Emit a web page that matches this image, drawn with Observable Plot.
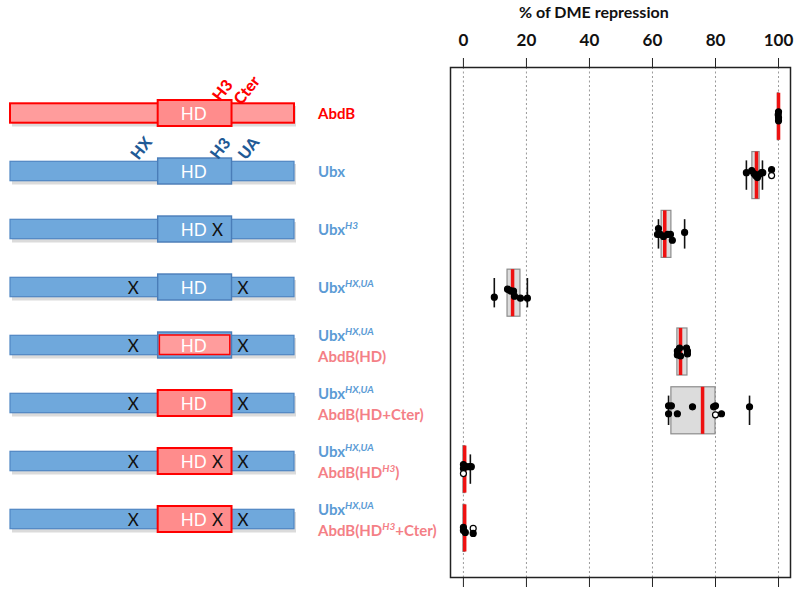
<!DOCTYPE html>
<html><head><meta charset="utf-8">
<script src="https://cdn.jsdelivr.net/npm/d3@7"></script>
<script src="https://cdn.jsdelivr.net/npm/@observablehq/plot@0.6"></script>
<style>
body{margin:0;background:#fff;}
#fig{position:relative;width:798px;height:593px;font-family:Lato,"Open Sans",sans-serif;overflow:hidden;}
#fig svg{position:absolute;top:0;}
.lab{position:absolute;font-weight:700;font-size:15px;line-height:21px;white-space:nowrap;}
.lab sup{font-style:italic;font-size:10px;vertical-align:baseline;position:relative;top:-0.6em;line-height:0;}
.title{position:absolute;left:519px;top:3px;font-weight:700;font-size:16px;line-height:18px;color:#111;white-space:nowrap;}
</style></head><body><div id="fig"></div>
<script>
// ---------- constructs ----------
const constructs = ["AbdB","Ubx","Ubx H3","Ubx HX,UA","Ubx HX,UA AbdB(HD)","Ubx HX,UA AbdB(HD+Cter)","Ubx HX,UA AbdB(HDH3)","Ubx HX,UA AbdB(HDH3+Cter)"];

// label lines: [text, superscript, text after]
const labelLine1 = [["AbdB","",""],["Ubx","",""],["Ubx","H3",""],["Ubx","HX,UA",""],["Ubx","HX,UA",""],["Ubx","HX,UA",""],["Ubx","HX,UA",""],["Ubx","HX,UA",""]];
const labelLine2 = [null,null,null,null,["AbdB(HD)","",""],["AbdB(HD+Cter)","",""],["AbdB(HD","H3",")"],["AbdB(HD","H3","+Cter)"]];
const labelLine1Kind = ["abdb","ubx","ubx","ubx","ubx","ubx","ubx","ubx"];

// ---------- protein diagrams (positions in % of protein length) ----------
const backboneProtein = ["AbdB","Ubx","Ubx","Ubx","Ubx","Ubx","Ubx","Ubx"];
const hdProtein       = ["AbdB","Ubx","Ubx","Ubx","Swap","AbdB","AbdB","AbdB"];
const motifHX  = [null,"Ubx","Ubx","mut","mut","mut","mut","mut"];
const motifH3  = ["AbdB","Ubx","mutUbx","Ubx","AbdB","AbdB","mutAbdB","mutAbdB"];
const motifUA  = [null,"Ubx","Ubx","mut","mut","mut","mut","mut"];
const hasCter  = [true,false,false,false,false,true,false,true];
const backboneSpan = [0, 100];
const hdSpan = [52, 78];
const motifSpan = {HX:[41.4,42.6], H3:[71.3,72.7], UA:[80,81.2], Cter:[78.5,79.7]};
const mutMarkPos = {HX:43.2, H3:72.9, UA:81.9};
const motifLabels = [
  {row:0, text:"H3", at:74.8, kind:"abdb"},
  {row:0, text:"Cter", at:83.3, kind:"abdb"},
  {row:1, text:"HX", at:46.2, kind:"ubx"},
  {row:1, text:"H3", at:74.0, kind:"ubx"},
  {row:1, text:"UA", at:84.0, kind:"ubx"}
];

// ---------- % of DME repression ----------
const xTicks = [0,20,40,60,80,100];
const boxQ1     = [99.8, 91.7, 62.9, 14.0, 67.9, 66.0, 0.0, 0.0];
const boxMedian = [100,  93.0, 63.9, 15.6, 68.9, 75.9, 0.4, 0.4];
const boxQ3     = [100.1,94.0, 66.0, 18.1, 71.1, 80.0, 0.6, 0.6];
const whiskerLo = [null, 89.8, 61.9, 9.8, null, 65.1, null, null];
const whiskerHi = [null, 94.9, 70.2, 20.3, null, 90.8, 2.2, null];
// points: [value, vertical jitter (row units), open circle]
const ptsAbdB = [[100,-0.085,0],[99.9,-0.034,0],[100,0.017,0],[100,0.068,0]];
const ptsUbx = [[89.8,-0.05,0],[91.5,-0.085,0],[92.2,-0.034,0],[92.7,0,0],[93.3,0.034,0],[93.8,-0.017,0],[94.6,-0.05,0],[95.0,-0.05,0],[97.8,-0.1,0],[97.8,0,1]];
const ptsUbxH3 = [[61.9,-0.1,0],[61.6,0,0],[62.5,0,0],[63.5,0.034,0],[64.8,0,0],[65.7,0,0],[66.3,0.1,0],[70.2,-0.034,0]];
const ptsUbxHXUA = [[9.8,0.068,0],[14.0,-0.068,0],[14.6,-0.05,0],[15.2,-0.034,0],[15.9,-0.034,0],[16.2,0.05,0],[18.1,0.085,0],[20.3,0.085,0]];
const ptsHD = [[67.9,-0.017,0],[67.9,0.05,0],[68.6,-0.068,0],[68.9,0.068,0],[70.8,-0.068,0],[71.1,-0.017,0],[71.1,0.034,0]];
const ptsHDCter = [[65.1,-0.085,0],[66.0,-0.085,0],[65.1,0.05,0],[67.9,0.05,0],[72.7,-0.068,0],[79.4,-0.068,0],[80.0,-0.085,0],[80.0,0.068,1],[81.9,0.05,0],[90.8,-0.068,0]];
const ptsHDH3 = [[0.0,-0.085,0],[0.0,-0.017,0],[0.0,0.068,1],[0.9,-0.05,0],[1.9,-0.05,0],[2.5,-0.05,0]];
const ptsHDH3Cter = [[0.0,-0.017,0],[0.0,0.034,0],[0.6,0.068,0],[3.1,0,1],[3.1,0.085,0]];
const pointSets = [ptsAbdB, ptsUbx, ptsUbxH3, ptsUbxHXUA, ptsHD, ptsHDCter, ptsHDH3, ptsHDH3Cter];

// ---------- styles ----------
const C = {
  ubxFill:"#6FA8DC", ubxStroke:"#4F86C3", ubxHDStroke:"#4A7DB8", ubxMotif:"#4D84C2",
  abdbFill:"#FF9C9C", abdbStroke:"#FF0000", abdbHDFill:"#FF8C8C", abdbMotif:"#FF0000",
  ubxLabel:"#5B9BD5", abdbLabel:"#FF0000", swapLabel:"#F47F86", motifUbxLabel:"#1F5A96"
};

// ---------- build tables ----------
const backbone = constructs.map((row,i)=>({row, x1:backboneSpan[0], x2:backboneSpan[1], p:backboneProtein[i]}));
const hdBoxes = constructs.map((row,i)=>({row, x1:hdSpan[0], x2:hdSpan[1], p:hdProtein[i]}));
const motifs = [];
const muts = [];
constructs.forEach((row,i)=>{
  const add = (name, v) => {
    if (!v) return;
    const isAbdB = v === "AbdB" || v === "mutAbdB";
    motifs.push({row, x1:motifSpan[name][0], x2:motifSpan[name][1], abdb:isAbdB});
    if (v.startsWith("mut")) muts.push({row, x:mutMarkPos[name]});
  };
  add("HX", motifHX[i]); add("H3", motifH3[i]); add("UA", motifUA[i]);
  if (hasCter[i]) motifs.push({row, x1:motifSpan.Cter[0], x2:motifSpan.Cter[1], abdb:true});
});
const motifTxt = motifLabels.map(d=>({...d, row:constructs[d.row]}));

const boxes = constructs.map((r,i)=>({row:i, q1:boxQ1[i], q3:boxQ3[i], med:boxMedian[i]}));
const staples = [];
constructs.forEach((r,i)=>{
  if (whiskerLo[i]!=null) staples.push({row:i, v:whiskerLo[i]});
  if (whiskerHi[i]!=null) staples.push({row:i, v:whiskerHi[i]});
});
const points = pointSets.flatMap((set,i)=>set.map(([v,j,o])=>({row:i, v, j, open:!!o})));

// ---------- left: diagrams ----------
const left = Plot.plot({
  width: 450, height: 593,
  marginLeft: 10, marginRight: 156, marginTop: 83, marginBottom: 45,
  x: {domain:[0,100], axis:null},
  y: {type:"band", domain:constructs, padding:0, axis:null},
  style: {background:"transparent", fontFamily:"Lato, 'Open Sans', sans-serif", overflow:"visible"},
  marks: [
    Plot.barX(backbone, {x1:"x1", x2:"x2", y:"row", insetTop:22, insetBottom:15.5, dx:2, fill:"#000", fillOpacity:0.14}),
    Plot.barX(backbone, {x1:"x1", x2:"x2", y:"row", insetTop:19.3, insetBottom:19.3,
      fill:d=>d.p==="AbdB"?C.abdbFill:C.ubxFill, stroke:d=>d.p==="AbdB"?C.abdbStroke:C.ubxStroke, strokeWidth:d=>d.p==="AbdB"?2:1.2}),
    Plot.barX(hdBoxes, {x1:"x1", x2:"x2", y:"row", insetTop:16, insetBottom:16,
      fill:d=>d.p==="AbdB"?C.abdbHDFill:C.ubxFill, stroke:d=>d.p==="AbdB"?C.abdbStroke:C.ubxHDStroke, strokeWidth:d=>d.p==="AbdB"?2:1.4}),
    Plot.barX(hdBoxes.filter(d=>d.p==="Swap"), {x1:d=>d.x1+0.6, x2:d=>d.x2-0.6, y:"row", insetTop:19, insetBottom:19.5,
      fill:C.abdbFill, stroke:C.abdbStroke, strokeWidth:1.5}),
    Plot.barX(motifs, {x1:"x1", x2:"x2", y:"row", insetTop:d=>d.abdb?18.5:19, insetBottom:d=>d.abdb?18.5:18,
      fill:d=>d.abdb?C.abdbMotif:C.ubxMotif}),
    Plot.text(hdBoxes, {x:64.5, y:"row", text:()=>"HD", fill:"white", fontSize:17, dy:1}),
    Plot.text(muts, {x:"x", y:"row", text:()=>"X", fill:"#111", fontSize:17, dy:1}),
    Plot.text(motifTxt, {x:"at", y:"row", text:"text", rotate:-52, dy:-23, fontSize:16, fontWeight:900,
      fill:d=>d.kind==="abdb"?C.abdbLabel:C.motifUbxLabel})
  ]
});

// ---------- right: boxplots ----------
const right = Plot.plot({
  width: 358, height: 593,
  marginLeft: 10, marginRight: 8, marginTop: 67, marginBottom: 16,
  x: {domain:[-4.1, 103.8]},
  y: {domain:[-0.838, 7.835], reverse:true, axis:null},
  style: {background:"transparent", fontFamily:"Lato, 'Open Sans', sans-serif", overflow:"visible"},
  marks: [
    Plot.gridX(xTicks, {stroke:"#9a9a9a", strokeOpacity:1, strokeDasharray:"2,2.5"}),
    Plot.axisX(xTicks, {anchor:"top", tickSize:10, tickPadding:12, fontSize:17, fontWeight:"bold", fill:"#111", stroke:"#222", label:null}),
    Plot.axisX(xTicks, {anchor:"bottom", tickSize:10, tickFormat:()=>"", stroke:"#222", label:null}),
    Plot.rect(boxes, {x1:"q1", x2:"q3", y1:d=>d.row-0.4, y2:d=>d.row+0.4, fill:"#dcdcdc", stroke:"#8c8c8c", strokeWidth:1.2}),
    Plot.ruleX(boxes, {x:"med", y1:d=>d.row-0.4, y2:d=>d.row+0.4, stroke:"#ee1111", strokeWidth:3.5}),
    Plot.ruleX(staples, {x:"v", y1:d=>d.row-0.25, y2:d=>d.row+0.25, stroke:"#111", strokeWidth:1.6}),
    Plot.dot(points, {x:"v", y:d=>d.row+d.j, r:3, fill:d=>d.open?"white":"black", stroke:"black", strokeWidth:1.2}),
    Plot.frame({stroke:"#222", strokeWidth:1.5})
  ]
});

const fig = document.getElementById("fig");
left.style.left = "0px";
right.style.left = "440px";
fig.appendChild(left);
fig.appendChild(right);

const title = document.createElement("div");
title.className = "title";
title.textContent = "% of DME repression";
fig.appendChild(title);

// construct labels
const ys = left.scale("y");
const lineHTML = (parts) => parts[0] + (parts[1] ? "<sup>" + parts[1] + "</sup>" : "") + parts[2];
constructs.forEach((name,i)=>{
  const c = ys.apply(name) + ys.bandwidth/2;
  const div = document.createElement("div");
  div.className = "lab";
  div.style.left = "318px";
  const col1 = labelLine1Kind[i]==="abdb" ? C.abdbLabel : C.ubxLabel;
  let html = '<div style="color:'+col1+'">' + lineHTML(labelLine1[i]) + '</div>';
  let lines = 1;
  if (labelLine2[i]) { html += '<div style="color:'+C.swapLabel+'">' + lineHTML(labelLine2[i]) + '</div>'; lines = 2; }
  div.innerHTML = html;
  div.style.top = (c - lines*21/2 + (lines===2?0.5:0)) + "px";
  fig.appendChild(div);
});
</script></body></html>
